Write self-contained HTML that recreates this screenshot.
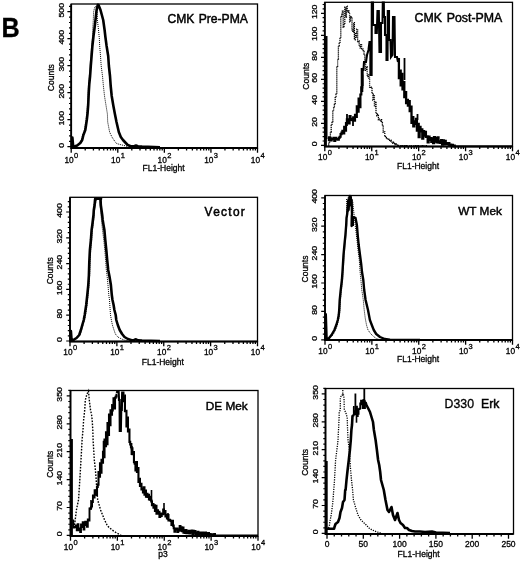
<!DOCTYPE html>
<html><head><meta charset="utf-8"><style>
html,body{margin:0;padding:0;background:#fff;}
svg{display:block;font-family:"Liberation Sans", sans-serif;filter:grayscale(100%);}
text{stroke:#000;stroke-width:0.3px;}
</style></head><body>
<svg width="520" height="562" viewBox="0 0 520 562" font-family='"Liberation Sans", sans-serif' fill="#000">
<text transform="translate(1.5,37.4) scale(0.935,1)" font-size="27" font-weight="bold" fill="#000">B</text>
<g><rect x="71.2" y="4" width="186.3" height="144" fill="none" stroke="#000" stroke-width="1.3"/><path d="M71.2 4V148H257.5" fill="none" stroke="#000" stroke-width="1.8"/><text transform="translate(64.4,145.2) rotate(-90) scale(1.08,1)" text-anchor="middle" font-size="8.1">0</text><text transform="translate(64.4,118.2) rotate(-90) scale(1.08,1)" text-anchor="middle" font-size="8.1">100</text><text transform="translate(64.4,91.2) rotate(-90) scale(1.08,1)" text-anchor="middle" font-size="8.1">200</text><text transform="translate(64.4,64.2) rotate(-90) scale(1.08,1)" text-anchor="middle" font-size="8.1">300</text><text transform="translate(64.4,37.2) rotate(-90) scale(1.08,1)" text-anchor="middle" font-size="8.1">400</text><text transform="translate(64.4,10.2) rotate(-90) scale(1.08,1)" text-anchor="middle" font-size="8.1">500</text><path d="M67.4 146.7H71.2M69 141.3H71.2M69 135.9H71.2M69 130.5H71.2M69 125.1H71.2M67.4 119.7H71.2M69 114.3H71.2M69 108.9H71.2M69 103.5H71.2M69 98.1H71.2M67.4 92.7H71.2M69 87.3H71.2M69 81.9H71.2M69 76.5H71.2M69 71.1H71.2M67.4 65.7H71.2M69 60.3H71.2M69 54.9H71.2M69 49.5H71.2M69 44.1H71.2M67.4 38.7H71.2M69 33.3H71.2M69 27.9H71.2M69 22.5H71.2M69 17.1H71.2M67.4 11.7H71.2M69 6.3H71.2" stroke="#000" stroke-width="1.2"/><text transform="translate(54.4,77.7) rotate(-90)" text-anchor="middle" font-size="8.5">Counts</text><text x="73.7" y="162.5" text-anchor="end" font-size="8.3">10</text><text x="74.1" y="157.9" font-size="7.5">0</text><text x="120.28" y="162.5" text-anchor="end" font-size="8.3">10</text><text x="120.68" y="157.9" font-size="7.5">1</text><text x="166.85" y="162.5" text-anchor="end" font-size="8.3">10</text><text x="167.25" y="157.9" font-size="7.5">2</text><text x="213.43" y="162.5" text-anchor="end" font-size="8.3">10</text><text x="213.83" y="157.9" font-size="7.5">3</text><text x="260" y="162.5" text-anchor="end" font-size="8.3">10</text><text x="260.4" y="157.9" font-size="7.5">4</text><path d="M71.2 148v4.8M85.22 148v2.6M93.42 148v2.6M99.24 148v2.6M103.75 148v2.6M107.44 148v2.6M110.56 148v2.6M113.26 148v2.6M115.64 148v2.6M117.78 148v4.8M131.8 148v2.6M140 148v2.6M145.82 148v2.6M150.33 148v2.6M154.02 148v2.6M157.14 148v2.6M159.84 148v2.6M162.22 148v2.6M164.35 148v4.8M178.37 148v2.6M186.57 148v2.6M192.39 148v2.6M196.9 148v2.6M200.59 148v2.6M203.71 148v2.6M206.41 148v2.6M208.79 148v2.6M210.93 148v4.8M224.95 148v2.6M233.15 148v2.6M238.97 148v2.6M243.48 148v2.6M247.17 148v2.6M250.29 148v2.6M252.99 148v2.6M255.37 148v2.6M257.5 148v4.8" stroke="#000" stroke-width="1.3"/><text x="142.6" y="171.4" font-size="8.5">FL1-Height</text><text x="247.9" y="22.6" text-anchor="end" font-size="12.15" font-weight="normal" word-spacing="0.8" style="stroke-width:0.45px" xml:space="preserve">CMK Pre-PMA</text><path d="M72.2,147 72.4,137.5 73.2,146.5 74.9,146.2 77.2,145.5 80.3,143 82.2,140 83.4,135 85.3,130 86.8,120 87.6,113 88.2,105 88.8,92 89.3,84 90.1,76 90.8,66 91.6,56 92.4,46 93.5,36 94.3,30 95.5,20 96.6,10 97.8,4.8 98.5,5 100.5,10 103.2,20 104.6,30 105.4,37 106.6,46 108.2,56 108.9,66 110,76 110.7,86 111.7,96 113.4,106 114.9,114 116.5,122 118.8,132 120.8,137 123,140 125.8,143 127.7,145 130.8,146.2 134,146.3 136,145.6 138,146.2 142,146.6 160,147.2" fill="none" stroke="#000" stroke-width="2.6" stroke-linejoin="round"/><path d="M73.5,146.6 76.5,145.6 79.6,143 81.5,140 82.6,135 84.5,130 86,120 86.8,113 87.4,105 88,92 88.5,84 89.3,76 90,66 90.8,56 91.6,46 92.4,38 92.8,28 93.3,20 93.6,12 94.5,8 95.5,6.2 96.6,8 97,12 97.4,20 98.5,30 99.3,38 99.7,46 100.5,56 101.2,66 102.5,76 103.4,86 104.5,96 106.1,106 107.4,114 107.7,122 109.6,132 111.9,137 114.6,141 116.5,143.5 120,144.5 124,145.5 128,146.5" fill="none" stroke="#000" stroke-width="1" stroke-dasharray="1 1"/></g>
<g><rect x="324.8" y="2.3" width="187.7" height="144.2" fill="none" stroke="#000" stroke-width="1.3"/><path d="M324.8 2.3V146.5H512.5" fill="none" stroke="#000" stroke-width="1.8"/><text transform="translate(317,143.9) rotate(-90) scale(1.08,1)" text-anchor="middle" font-size="8.1">0</text><text transform="translate(317,121.88) rotate(-90) scale(1.08,1)" text-anchor="middle" font-size="8.1">20</text><text transform="translate(317,99.87) rotate(-90) scale(1.08,1)" text-anchor="middle" font-size="8.1">40</text><text transform="translate(317,77.85) rotate(-90) scale(1.08,1)" text-anchor="middle" font-size="8.1">60</text><text transform="translate(317,55.83) rotate(-90) scale(1.08,1)" text-anchor="middle" font-size="8.1">80</text><text transform="translate(317,33.82) rotate(-90) scale(1.08,1)" text-anchor="middle" font-size="8.1">100</text><text transform="translate(317,11.8) rotate(-90) scale(1.08,1)" text-anchor="middle" font-size="8.1">120</text><path d="M321 145.4H324.8M322.6 141H324.8M322.6 136.59H324.8M322.6 132.19H324.8M322.6 127.79H324.8M321 123.38H324.8M322.6 118.98H324.8M322.6 114.58H324.8M322.6 110.17H324.8M322.6 105.77H324.8M321 101.37H324.8M322.6 96.96H324.8M322.6 92.56H324.8M322.6 88.16H324.8M322.6 83.75H324.8M321 79.35H324.8M322.6 74.95H324.8M322.6 70.54H324.8M322.6 66.14H324.8M322.6 61.74H324.8M321 57.33H324.8M322.6 52.93H324.8M322.6 48.53H324.8M322.6 44.12H324.8M322.6 39.72H324.8M321 35.32H324.8M322.6 30.91H324.8M322.6 26.51H324.8M322.6 22.11H324.8M322.6 17.7H324.8M321 13.3H324.8M322.6 8.9H324.8M322.6 4.49H324.8" stroke="#000" stroke-width="1.2"/><text transform="translate(308.6,76.2) rotate(-90)" text-anchor="middle" font-size="8.5">Counts</text><text x="327.3" y="160" text-anchor="end" font-size="8.3">10</text><text x="327.7" y="155.4" font-size="7.5">0</text><text x="374.23" y="160" text-anchor="end" font-size="8.3">10</text><text x="374.62" y="155.4" font-size="7.5">1</text><text x="421.15" y="160" text-anchor="end" font-size="8.3">10</text><text x="421.55" y="155.4" font-size="7.5">2</text><text x="468.07" y="160" text-anchor="end" font-size="8.3">10</text><text x="468.47" y="155.4" font-size="7.5">3</text><text x="515" y="160" text-anchor="end" font-size="8.3">10</text><text x="515.4" y="155.4" font-size="7.5">4</text><path d="M324.8 146.5v4.8M338.93 146.5v2.6M347.19 146.5v2.6M353.05 146.5v2.6M357.6 146.5v2.6M361.31 146.5v2.6M364.46 146.5v2.6M367.18 146.5v2.6M369.58 146.5v2.6M371.73 146.5v4.8M385.85 146.5v2.6M394.11 146.5v2.6M399.98 146.5v2.6M404.52 146.5v2.6M408.24 146.5v2.6M411.38 146.5v2.6M414.1 146.5v2.6M416.5 146.5v2.6M418.65 146.5v4.8M432.78 146.5v2.6M441.04 146.5v2.6M446.9 146.5v2.6M451.45 146.5v2.6M455.16 146.5v2.6M458.31 146.5v2.6M461.03 146.5v2.6M463.43 146.5v2.6M465.57 146.5v4.8M479.7 146.5v2.6M487.96 146.5v2.6M493.83 146.5v2.6M498.37 146.5v2.6M502.09 146.5v2.6M505.23 146.5v2.6M507.95 146.5v2.6M510.35 146.5v2.6M512.5 146.5v4.8" stroke="#000" stroke-width="1.3"/><text x="397" y="168.75" font-size="8.5">FL1-Height</text><text x="502.3" y="21.8" text-anchor="end" font-size="12.35" font-weight="normal" word-spacing="1.4" style="stroke-width:0.45px" xml:space="preserve">CMK Post-PMA</text><path d="M325.8,146.5 325.8,37 326.4,37 326.4,139" fill="none" stroke="#000" stroke-width="2.2" stroke-linejoin="miter"/><path d="M328,137.39 328.9,137.39 328.9,140.12 329.8,140.12 329.8,137.97 330.7,137.97 330.7,140.37 331.6,140.37 331.6,139.13 332.5,139.13 332.5,139.22 333.4,139.22 333.4,137.93 334.3,137.93 334.3,140.79 335.2,140.79 335.2,137.93 336.1,137.93 336.1,139.17 337,139.17 337,139.47 337.9,139.47 337.9,139.59 338.8,139.59 338.8,137.76 339.7,137.76 339.7,136.76 340.6,136.76 340.6,134.13 341.5,134.13 341.5,132.63 342.4,132.63 342.4,130.92 343.3,130.92 343.3,133.31 344.2,133.31 344.2,126.97 345.1,126.97 345.1,130.63 346,130.63 346,123.04 346.9,123.04 346.9,119.44 347.8,119.44 347.8,120.02 348.7,120.02 348.7,123.35 349.6,123.35 349.6,116.18 350.5,116.18 350.5,118.86 351.4,118.86 351.4,119.79 352.3,119.79 352.3,120.08 353.2,120.08 353.2,117.23 354.1,117.23 354.1,120.74 355,120.74 355,114.8 355.9,114.8 355.9,117.01 356.8,117.01 356.8,106.42 357.7,106.42 357.7,111.62 358.6,111.62 358.6,98.63 359.5,98.63 359.5,107.08 360.4,107.08 360.4,94.48 361.3,94.48 361.3,87.39 362.2,87.39 362.2,74.77 363.1,74.77" fill="none" stroke="#000" stroke-width="2.2" stroke-linejoin="miter"/><path d="M362.5,86 362.5,70 363.5,70 364,62 366,62 367,55 368.5,50 369.5,42 370.4,42 370.4,75 371.6,75 371.8,2.5 373,2.5 373,25 375.5,25 375.5,33 376.8,33 377.5,11 378.8,11 379.5,52 381,52 381,23 382.5,23 382.8,2.5 383.8,2.5 384,17 385,17 385,35 386.5,35 386.5,60 387.5,60 387.8,11 389,11 389,40 390.5,40 391,57 392.5,55 393,17 394.5,17 395,57 397,57 398,62" fill="none" stroke="#000" stroke-width="2.1" stroke-linejoin="miter"/><path d="M398,59.08 398.9,59.08 398.9,78.22 399.8,78.22 399.8,70.64 400.7,70.64 400.7,85.26 401.6,85.26 401.6,74.01 402.5,74.01 402.5,89.28 403.4,89.28 403.4,82.26 404.3,82.26 404.3,97.17 405.2,97.17 405.2,92.05 406.1,92.05 406.1,103.14 407,103.14 407,99.9 407.9,99.9 407.9,105.52 408.8,105.52 408.8,101.05 409.7,101.05 409.7,111.05 410.6,111.05 410.6,106.72 411.5,106.72 411.5,122.95 412.4,122.95 412.4,117.08 413.3,117.08 413.3,126.24 414.2,126.24 414.2,121.36 415.1,121.36 415.1,123.9 416,123.9 416,118.99 416.9,118.99 416.9,130.56 417.8,130.56 417.8,123.83 418.7,123.83 418.7,137.14 419.6,137.14 419.6,127.02 420.5,127.02 420.5,131.37 421.4,131.37 421.4,129.45 422.3,129.45 422.3,138.65 423.2,138.65 423.2,131.04 424.1,131.04 424.1,135.66 425,135.66 425,131.86 425.9,131.86 425.9,136.78 426.8,136.78 426.8,136.46 427.7,136.46 427.7,142.35 428.6,142.35 428.6,136.63 429.5,136.63 429.5,139.94 430.4,139.94 430.4,138.17 431.3,138.17 431.3,141.74 432.2,141.74 432.2,138.37 433.1,138.37 433.1,143.17 434,143.17 434,137.2 434.9,137.2 434.9,141.58 435.8,141.58 435.8,138.07 436.7,138.07 436.7,142.32 437.6,142.32 437.6,137.38 438.5,137.38 438.5,142.57 439.4,142.57 439.4,141.52 440.3,141.52 440.3,142.83 441.2,142.83 441.2,140.07 442.1,140.07 442.1,144.55 443,144.55 443,140.46 443.9,140.46 443.9,144.42 444.8,144.42 444.8,141.01 445.7,141.01 445.7,143.88 446.6,143.88 446.6,143.25 447.5,143.25 447.5,144.28 448.4,144.28 448.4,143.18 449.3,143.18 449.3,144.96 450.2,144.96 450.2,144.71 451.1,144.71 451.1,145.5 452,145.5 452,144.97 452.9,144.97 452.9,146.2 453.8,146.2 453.8,145.61 454.7,145.61 454.7,146.37 455.6,146.37" fill="none" stroke="#000" stroke-width="2.3" stroke-linejoin="miter"/><path d="M455,146.4 512,146.4" fill="none" stroke="#000" stroke-width="1.8" stroke-linejoin="round"/><path d="M404.5,80 404.5,58" fill="none" stroke="#000" stroke-width="1.8" stroke-linejoin="miter"/><path d="M417.5,120 417.5,114" fill="none" stroke="#000" stroke-width="1.8" stroke-linejoin="miter"/><path d="M347,126 347,114" fill="none" stroke="#000" stroke-width="1.8" stroke-linejoin="miter"/><path d="M362,92 362,68" fill="none" stroke="#000" stroke-width="2.6" stroke-linejoin="miter"/><path d="M353,118 353,126" fill="none" stroke="#000" stroke-width="1.8" stroke-linejoin="miter"/><path d="M328,144.99 328.8,144.99 328.8,142.06 329.6,142.06 329.6,136.93 330.4,136.93 330.4,132.01 331.2,132.01 331.2,125.44 332,125.44 332,121.58 332.8,121.58 332.8,111.21 333.6,111.21 333.6,107.85 334.4,107.85 334.4,104.51 335.2,104.51 335.2,96.64 336,96.64 336,94.19 336.8,94.19 336.8,66.3 337.6,66.3 337.6,59.13 338.4,59.13 338.4,45.95 339.2,45.95 339.2,43.36 340,43.36 340,37.17 340.8,37.17 340.8,16.42 341.6,16.42 341.6,14.4 342.4,14.4 342.4,11.26 343.2,11.26 343.2,27.4 344,27.4 344,23.36 344.8,23.36 344.8,7.13 345.6,7.13 345.6,17.05 346.4,17.05 346.4,6.16 347.2,6.16 347.2,11.76 348,11.76 348,10.54 348.8,10.54 348.8,12.41 349.6,12.41 349.6,21.93 350.4,21.93 350.4,16.3 351.2,16.3 351.2,17.45 352,17.45 352,29.8 352.8,29.8 352.8,32.19 353.6,32.19 353.6,22.69 354.4,22.69 354.4,39.75 355.2,39.75 355.2,32.94 356,32.94 356,37.22 356.8,37.22 356.8,29.25 357.6,29.25 357.6,41.6 358.4,41.6 358.4,41.01 359.2,41.01 359.2,46.14 360,46.14 360,47.95 360.8,47.95 360.8,44.7 361.6,44.7 361.6,48.51 362.4,48.51 362.4,49.12 363.2,49.12 363.2,51.38 364,51.38 364,54.19 364.8,54.19 364.8,62.94 365.6,62.94 365.6,70.41 366.4,70.41 366.4,66.69 367.2,66.69 367.2,76.52 368,76.52 368,74.97 368.8,74.97 368.8,78.16 369.6,78.16 369.6,87.42 370.4,87.42 370.4,87.03 371.2,87.03 371.2,88.51 372,88.51 372,93.6 372.8,93.6 372.8,100.09 373.6,100.09 373.6,94.9 374.4,94.9 374.4,106.62 375.2,106.62 375.2,101.74 376,101.74 376,112.72 376.8,112.72 376.8,115.73 377.6,115.73 377.6,114.46 378.4,114.46 378.4,119.82 379.2,119.82 379.2,118.9 380,118.9 380,121.12 380.8,121.12 380.8,119.76 381.6,119.76 381.6,122.55 382.4,122.55 382.4,126.2 383.2,126.2 383.2,132.39 384,132.39 384,131.88 384.8,131.88 384.8,135.88 385.6,135.88 385.6,137.61 386.4,137.61 386.4,138.93 387.2,138.93 387.2,138.73 388,138.73 388,139.23 388.8,139.23 388.8,140.17 389.6,140.17 389.6,141.18 390.4,141.18 390.4,140.22 391.2,140.22 391.2,142.09 392,142.09 392,142.66 392.8,142.66 392.8,143.37 393.6,143.37 393.6,142.26 394.4,142.26 394.4,144.71 395.2,144.71 395.2,143.55 396,143.55 396,144.6 396.8,144.6 396.8,145.47 397.6,145.47 397.6,146.09 398.4,146.09 398.4,145.32 399.2,145.32 399.2,146.33 400,146.33 400,146.07 400.8,146.07 400.8,145.77 401.6,145.77 401.6,145.78 402.4,145.78 402.4,145.65 403.2,145.65 403.2,145.56 404,145.56 404,145.62 404.8,145.62 404.8,146.23 405.6,146.23 405.6,146.5 406.4,146.5 406.4,145.63 407.2,145.63 407.2,145.54 408,145.54 408,146.49 408.8,146.49 408.8,146.06 409.6,146.06 409.6,145.87 410.4,145.87 410.4,145.7 411.2,145.7 411.2,146.13 412,146.13 412,146.36 412.8,146.36 412.8,145.93 413.6,145.93 413.6,145.89 414.4,145.89 414.4,145.55 415.2,145.55 415.2,146.43 416,146.43 416,145.53 416.8,145.53 416.8,145.98 417.6,145.98 417.6,146.37 418.4,146.37 418.4,145.61 419.2,145.61 419.2,146.27 420,146.27 420,146.46 420.8,146.46 420.8,146.17 421.6,146.17 421.6,146.32 422.4,146.32 422.4,145.59 423.2,145.59 423.2,145.9 424,145.9 424,145.62 424.8,145.62 424.8,146.37 425.6,146.37 425.6,145.75 426.4,145.75 426.4,145.92 427.2,145.92" fill="none" stroke="#000" stroke-width="1.3" stroke-dasharray="1.2 0.8"/></g>
<g><rect x="70" y="197.3" width="187.5" height="144.2" fill="none" stroke="#000" stroke-width="1.3"/><path d="M70 197.3V341.5H257.5" fill="none" stroke="#000" stroke-width="1.8"/><text transform="translate(61.9,339.5) rotate(-90) scale(1.08,1)" text-anchor="middle" font-size="8.1">0</text><text transform="translate(61.9,313.7) rotate(-90) scale(1.08,1)" text-anchor="middle" font-size="8.1">80</text><text transform="translate(61.9,287.9) rotate(-90) scale(1.08,1)" text-anchor="middle" font-size="8.1">160</text><text transform="translate(61.9,262.1) rotate(-90) scale(1.08,1)" text-anchor="middle" font-size="8.1">240</text><text transform="translate(61.9,236.3) rotate(-90) scale(1.08,1)" text-anchor="middle" font-size="8.1">320</text><text transform="translate(61.9,210.5) rotate(-90) scale(1.08,1)" text-anchor="middle" font-size="8.1">400</text><path d="M66.2 341H70M67.8 335.84H70M67.8 330.68H70M67.8 325.52H70M67.8 320.36H70M66.2 315.2H70M67.8 310.04H70M67.8 304.88H70M67.8 299.72H70M67.8 294.56H70M66.2 289.4H70M67.8 284.24H70M67.8 279.08H70M67.8 273.92H70M67.8 268.76H70M66.2 263.6H70M67.8 258.44H70M67.8 253.28H70M67.8 248.12H70M67.8 242.96H70M66.2 237.8H70M67.8 232.64H70M67.8 227.48H70M67.8 222.32H70M67.8 217.16H70M66.2 212H70M67.8 206.84H70M67.8 201.68H70" stroke="#000" stroke-width="1.2"/><text transform="translate(52.6,270.8) rotate(-90)" text-anchor="middle" font-size="8.5">Counts</text><text x="72.5" y="355" text-anchor="end" font-size="8.3">10</text><text x="72.9" y="350.4" font-size="7.5">0</text><text x="119.38" y="355" text-anchor="end" font-size="8.3">10</text><text x="119.78" y="350.4" font-size="7.5">1</text><text x="166.25" y="355" text-anchor="end" font-size="8.3">10</text><text x="166.65" y="350.4" font-size="7.5">2</text><text x="213.12" y="355" text-anchor="end" font-size="8.3">10</text><text x="213.53" y="350.4" font-size="7.5">3</text><text x="260" y="355" text-anchor="end" font-size="8.3">10</text><text x="260.4" y="350.4" font-size="7.5">4</text><path d="M70 341.5v4.8M84.11 341.5v2.6M92.37 341.5v2.6M98.22 341.5v2.6M102.76 341.5v2.6M106.48 341.5v2.6M109.61 341.5v2.6M112.33 341.5v2.6M114.73 341.5v2.6M116.88 341.5v4.8M130.99 341.5v2.6M139.24 341.5v2.6M145.1 341.5v2.6M149.64 341.5v2.6M153.35 341.5v2.6M156.49 341.5v2.6M159.21 341.5v2.6M161.61 341.5v2.6M163.75 341.5v4.8M177.86 341.5v2.6M186.12 341.5v2.6M191.97 341.5v2.6M196.51 341.5v2.6M200.23 341.5v2.6M203.36 341.5v2.6M206.08 341.5v2.6M208.48 341.5v2.6M210.62 341.5v4.8M224.74 341.5v2.6M232.99 341.5v2.6M238.85 341.5v2.6M243.39 341.5v2.6M247.1 341.5v2.6M250.24 341.5v2.6M252.96 341.5v2.6M255.36 341.5v2.6M257.5 341.5v4.8" stroke="#000" stroke-width="1.3"/><text x="141.75" y="364.5" font-size="8.5">FL1-Height</text><text x="246.1" y="215.9" text-anchor="end" font-size="11.9" font-weight="normal" letter-spacing="1.3" style="stroke-width:0.5px" xml:space="preserve">Vector</text><path d="M70.9,341.5 70.9,331 71.6,340.5 73.2,340 76.5,338 79.2,335 80.9,330 82.3,325 83.75,320 84.7,315 86.2,305 87.3,295 88.3,285 88.9,275 89.3,262 89.9,250 90.9,240 91.6,230 92.3,225 92.9,220 93.5,215 93.8,210 94.6,205 95,200 95.3,198.6 101,198.6 100.6,200 100.8,205 101.5,210 102.2,215 102.7,220 103.5,225 104.4,230 105.3,240 106.3,250 107.2,260 108.2,270 109.4,276 110.9,285 111.8,295 112.5,300 113.6,305 114.4,310 115.7,315 116.3,320 117.8,325 119.7,330 122.1,334 124.5,337 127.9,339 131.7,340.2 134,340 136,339.3 138,340.3 142,340.6 160,341" fill="none" stroke="#000" stroke-width="2.6" stroke-linejoin="round"/><path d="M74,340.5 77.5,338 80,335 81.7,330 83.1,325 84.5,320 85.5,315 87,305 88,295 89,285 89.7,275 90.1,262 90.7,250 91.7,240 92.4,230 93.1,225 93.7,220 94.3,215 94.6,210 95.4,205 96.5,200 98.5,199 99.5,199.5 100,205 100.5,210 101.5,220 102.5,230 103.8,240 104.8,250 105.6,260 106.3,270 107,275 108,285 108.8,295 109.5,300 109.8,305 110.5,315 111.4,320 112.4,325 114,330 115.4,334 117.8,337 120.7,338.5 124,340 128,340.8" fill="none" stroke="#000" stroke-width="1" stroke-dasharray="1 1"/></g>
<g><rect x="325" y="195.5" width="187.5" height="144.5" fill="none" stroke="#000" stroke-width="1.3"/><path d="M325 195.5V340H512.5" fill="none" stroke="#000" stroke-width="1.8"/><text transform="translate(316.9,338.3) rotate(-90) scale(1.08,1)" text-anchor="middle" font-size="8.1">0</text><text transform="translate(316.9,309.9) rotate(-90) scale(1.08,1)" text-anchor="middle" font-size="8.1">80</text><text transform="translate(316.9,281.5) rotate(-90) scale(1.08,1)" text-anchor="middle" font-size="8.1">160</text><text transform="translate(316.9,253.1) rotate(-90) scale(1.08,1)" text-anchor="middle" font-size="8.1">240</text><text transform="translate(316.9,224.7) rotate(-90) scale(1.08,1)" text-anchor="middle" font-size="8.1">320</text><text transform="translate(316.9,196.3) rotate(-90) scale(1.08,1)" text-anchor="middle" font-size="8.1">400</text><path d="M321.2 339.8H325M322.8 334.12H325M322.8 328.44H325M322.8 322.76H325M322.8 317.08H325M321.2 311.4H325M322.8 305.72H325M322.8 300.04H325M322.8 294.36H325M322.8 288.68H325M321.2 283H325M322.8 277.32H325M322.8 271.64H325M322.8 265.96H325M322.8 260.28H325M321.2 254.6H325M322.8 248.92H325M322.8 243.24H325M322.8 237.56H325M322.8 231.88H325M321.2 226.2H325M322.8 220.52H325M322.8 214.84H325M322.8 209.16H325M322.8 203.48H325M321.2 197.8H325" stroke="#000" stroke-width="1.2"/><text transform="translate(308.3,269) rotate(-90)" text-anchor="middle" font-size="8.5">Counts</text><text x="327.5" y="353.5" text-anchor="end" font-size="8.3">10</text><text x="327.9" y="348.9" font-size="7.5">0</text><text x="374.38" y="353.5" text-anchor="end" font-size="8.3">10</text><text x="374.77" y="348.9" font-size="7.5">1</text><text x="421.25" y="353.5" text-anchor="end" font-size="8.3">10</text><text x="421.65" y="348.9" font-size="7.5">2</text><text x="468.12" y="353.5" text-anchor="end" font-size="8.3">10</text><text x="468.52" y="348.9" font-size="7.5">3</text><text x="515" y="353.5" text-anchor="end" font-size="8.3">10</text><text x="515.4" y="348.9" font-size="7.5">4</text><path d="M325 340v4.8M339.11 340v2.6M347.37 340v2.6M353.22 340v2.6M357.76 340v2.6M361.48 340v2.6M364.61 340v2.6M367.33 340v2.6M369.73 340v2.6M371.88 340v4.8M385.99 340v2.6M394.24 340v2.6M400.1 340v2.6M404.64 340v2.6M408.35 340v2.6M411.49 340v2.6M414.21 340v2.6M416.61 340v2.6M418.75 340v4.8M432.86 340v2.6M441.12 340v2.6M446.97 340v2.6M451.51 340v2.6M455.23 340v2.6M458.36 340v2.6M461.08 340v2.6M463.48 340v2.6M465.62 340v4.8M479.74 340v2.6M487.99 340v2.6M493.85 340v2.6M498.39 340v2.6M502.1 340v2.6M505.24 340v2.6M507.96 340v2.6M510.36 340v2.6M512.5 340v4.8" stroke="#000" stroke-width="1.3"/><text x="397" y="361.75" font-size="8.5">FL1-Height</text><text x="501.9" y="214.7" text-anchor="end" font-size="11.8" font-weight="normal" style="stroke-width:0.45px" xml:space="preserve">WT Mek</text><path d="M325.8,340 325.8,314.2 326.6,338.5 327.2,339 329.1,338 331.5,335 334.4,330 336.3,325 337.8,320 338.75,315 339.2,310 339.7,300 340.7,290 341.9,280 342.6,270 343.5,255 344.4,245 345.4,235 346.2,225 346.5,218 347.2,214 348.2,204 348.6,210 349.3,198 349.8,196 350.3,202 350.8,197 351.3,206 351.6,200 352,214 351.8,216 351.6,226 352.6,217 354,217.5 355.5,218 356.3,222 356.9,225 357.7,235 358.7,245 360,255 361.3,265 362,272 363.3,280 364.2,290 365.6,300 368,310 369.9,320 371.8,325 373.75,330 376.2,334 380,337 384.8,339 390,339.6 420,340" fill="none" stroke="#000" stroke-width="2.4" stroke-linejoin="round"/><path d="M353,217 353,226" fill="none" stroke="#000" stroke-width="2.0" stroke-linejoin="miter"/><path d="M327.5,339.5 330,337.5 333,335 335.5,330 337.3,325 338.5,320 339.5,315 340,310 340.5,300 341.5,290 342.6,280 343.3,270 344.2,255 345.1,245 346,235 346.7,225 346.9,215 347.1,205 347.5,199 348.5,197 350,197.5 351.5,199 352.8,202 353.2,206 353.8,212 354.6,220 355.8,230 357,240 358,250 359.3,260 359.9,270 360.9,280 361.8,290 363.3,300 364.2,310 365.2,318 366.5,325 368,330 370.9,334 374.2,337 377,339 382,339.8" fill="none" stroke="#000" stroke-width="1" stroke-dasharray="1 1"/><path d="M346.7,199 347,214 347.8,200 348,213" fill="none" stroke="#000" stroke-width="1.2" stroke-dasharray="1 1"/></g>
<g><rect x="70.5" y="390.5" width="187.5" height="145.5" fill="none" stroke="#000" stroke-width="1.3"/><path d="M70.5 390.5V536H258" fill="none" stroke="#000" stroke-width="1.8"/><text transform="translate(62.3,533.9) rotate(-90) scale(1.08,1)" text-anchor="middle" font-size="8.1">0</text><text transform="translate(62.3,506) rotate(-90) scale(1.08,1)" text-anchor="middle" font-size="8.1">70</text><text transform="translate(62.3,478.1) rotate(-90) scale(1.08,1)" text-anchor="middle" font-size="8.1">140</text><text transform="translate(62.3,450.2) rotate(-90) scale(1.08,1)" text-anchor="middle" font-size="8.1">210</text><text transform="translate(62.3,422.3) rotate(-90) scale(1.08,1)" text-anchor="middle" font-size="8.1">280</text><text transform="translate(62.3,394.4) rotate(-90) scale(1.08,1)" text-anchor="middle" font-size="8.1">350</text><path d="M66.7 535.4H70.5M68.3 529.82H70.5M68.3 524.24H70.5M68.3 518.66H70.5M68.3 513.08H70.5M66.7 507.5H70.5M68.3 501.92H70.5M68.3 496.34H70.5M68.3 490.76H70.5M68.3 485.18H70.5M66.7 479.6H70.5M68.3 474.02H70.5M68.3 468.44H70.5M68.3 462.86H70.5M68.3 457.28H70.5M66.7 451.7H70.5M68.3 446.12H70.5M68.3 440.54H70.5M68.3 434.96H70.5M68.3 429.38H70.5M66.7 423.8H70.5M68.3 418.22H70.5M68.3 412.64H70.5M68.3 407.06H70.5M68.3 401.48H70.5M66.7 395.9H70.5M68.3 390.32H70.5" stroke="#000" stroke-width="1.2"/><text transform="translate(52.6,464.2) rotate(-90)" text-anchor="middle" font-size="8.5">Counts</text><text x="73" y="549.5" text-anchor="end" font-size="8.3">10</text><text x="73.4" y="544.9" font-size="7.5">0</text><text x="119.88" y="549.5" text-anchor="end" font-size="8.3">10</text><text x="120.28" y="544.9" font-size="7.5">1</text><text x="166.75" y="549.5" text-anchor="end" font-size="8.3">10</text><text x="167.15" y="544.9" font-size="7.5">2</text><text x="213.62" y="549.5" text-anchor="end" font-size="8.3">10</text><text x="214.03" y="544.9" font-size="7.5">3</text><text x="260.5" y="549.5" text-anchor="end" font-size="8.3">10</text><text x="260.9" y="544.9" font-size="7.5">4</text><path d="M70.5 536v4.8M84.61 536v2.6M92.87 536v2.6M98.72 536v2.6M103.26 536v2.6M106.98 536v2.6M110.11 536v2.6M112.83 536v2.6M115.23 536v2.6M117.38 536v4.8M131.49 536v2.6M139.74 536v2.6M145.6 536v2.6M150.14 536v2.6M153.85 536v2.6M156.99 536v2.6M159.71 536v2.6M162.11 536v2.6M164.25 536v4.8M178.36 536v2.6M186.62 536v2.6M192.47 536v2.6M197.01 536v2.6M200.73 536v2.6M203.86 536v2.6M206.58 536v2.6M208.98 536v2.6M211.12 536v4.8M225.24 536v2.6M233.49 536v2.6M239.35 536v2.6M243.89 536v2.6M247.6 536v2.6M250.74 536v2.6M253.46 536v2.6M255.86 536v2.6M258 536v4.8" stroke="#000" stroke-width="1.3"/><text x="158.25" y="557" font-size="8.5">p3</text><text x="247.7" y="410.2" text-anchor="end" font-size="11.8" font-weight="normal" style="stroke-width:0.45px" xml:space="preserve">DE Mek</text><path d="M71.6,536 71.6,439" fill="none" stroke="#000" stroke-width="2.6" stroke-linejoin="miter"/><path d="M72.5,520.44 73.35,520.44 73.35,527.49 74.2,527.49 74.2,527.26 75.05,527.26 75.05,527 75.9,527 75.9,525.41 76.75,525.41 76.75,530.26 77.6,530.26 77.6,524.26 78.45,524.26 78.45,530.18 79.3,530.18 79.3,528.55 80.15,528.55 80.15,532.14 81,532.14 81,524.37 81.85,524.37 81.85,527.05 82.7,527.05 82.7,522.11 83.55,522.11 83.55,529.59 84.4,529.59 84.4,525.02 85.25,525.02 85.25,521.64 86.1,521.64 86.1,524.61 86.95,524.61 86.95,526.89 87.8,526.89 87.8,519.56 88.65,519.56 88.65,520.45 89.5,520.45 89.5,508.46 90.35,508.46 90.35,508.17 91.2,508.17 91.2,506.66 92.05,506.66 92.05,502.03 92.9,502.03 92.9,495.54 93.75,495.54 93.75,497.51 94.6,497.51 94.6,490.31 95.45,490.31 95.45,493.94 96.3,493.94" fill="none" stroke="#000" stroke-width="1.9" stroke-linejoin="miter"/><path d="M95.5,490.15 96.25,490.15 96.25,494.83 97,494.83 97,486.89 97.75,486.89 97.75,484.58 98.5,484.58 98.5,471.99 99.25,471.99 99.25,476.61 100,476.61 100,463.3 100.75,463.3 100.75,472.78 101.5,472.78 101.5,459.77 102.25,459.77 102.25,462.66 103,462.66 103,451.76 103.75,451.76 103.75,457.09 104.5,457.09 104.5,439.65 105.25,439.65 105.25,446.13 106,446.13 106,432.3 106.75,432.3 106.75,444.1 107.5,444.1 107.5,423.12 108.25,423.12 108.25,434.89 109,434.89 109,414.52 109.75,414.52 109.75,425.24 110.5,425.24 110.5,410.21 111.25,410.21 111.25,414.76 112,414.76 112,410.48 112.75,410.48 112.75,406.12 113.5,406.12 113.5,398.36 114.25,398.36 114.25,408.52 115,408.52 115,397.82 115.75,397.82 115.75,396.51 116.5,396.51 116.5,394.83 117.25,394.83" fill="none" stroke="#000" stroke-width="2.1" stroke-linejoin="miter"/><path d="M116.8,393 117.2,391.5 118.6,391.5 119,400 119.6,400 119.8,431 120.8,431 121.2,410 121.8,410 122.2,392.7 123.4,392.7 123.6,402 124.2,400" fill="none" stroke="#000" stroke-width="2.2" stroke-linejoin="miter"/><path d="M124.2,395.44 124.95,395.44 124.95,411.18 125.7,411.18 125.7,410.9 126.45,410.9 126.45,426.44 127.2,426.44 127.2,417.5 127.95,417.5 127.95,431.35 128.7,431.35 128.7,429.67 129.45,429.67 129.45,441.85 130.2,441.85 130.2,444.4 130.95,444.4 130.95,447.09 131.7,447.09 131.7,448.39 132.45,448.39 132.45,454.09 133.2,454.09 133.2,452.15 133.95,452.15 133.95,462.31 134.7,462.31 134.7,463.72 135.45,463.72 135.45,470.35 136.2,470.35 136.2,461.97 136.95,461.97 136.95,471.85 137.7,471.85 137.7,468.11 138.45,468.11 138.45,481.94 139.2,481.94 139.2,478.89 139.95,478.89 139.95,485.88 140.7,485.88 140.7,483.9 141.45,483.9 141.45,489.57 142.2,489.57 142.2,488.89 142.95,488.89 142.95,492.52 143.7,492.52 143.7,487.22 144.45,487.22 144.45,494.74 145.2,494.74 145.2,490.54 145.95,490.54 145.95,496.68 146.7,496.68 146.7,493.8 147.45,493.8 147.45,497.07 148.2,497.07 148.2,494.74 148.95,494.74 148.95,499.42 149.7,499.42 149.7,496.75 150.45,496.75 150.45,500.06 151.2,500.06 151.2,501.35 151.95,501.35 151.95,505.22 152.7,505.22 152.7,504.15 153.45,504.15 153.45,507.72 154.2,507.72 154.2,505.31 154.95,505.31 154.95,510.97 155.7,510.97 155.7,505.87 156.45,505.87 156.45,513.66 157.2,513.66 157.2,510.28 157.95,510.28 157.95,513.73 158.7,513.73 158.7,511.72 159.45,511.72 159.45,516.99 160.2,516.99 160.2,513.5 160.95,513.5 160.95,515.94 161.7,515.94 161.7,513.71 162.45,513.71 162.45,514.19 163.2,514.19 163.2,509.61 163.95,509.61 163.95,513.5 164.7,513.5 164.7,510.96 165.45,510.96 165.45,516.41 166.2,516.41 166.2,514.78 166.95,514.78 166.95,518.57 167.7,518.57 167.7,515.05 168.45,515.05 168.45,520.43 169.2,520.43 169.2,519.68 169.95,519.68 169.95,520.53 170.7,520.53 170.7,520.86 171.45,520.86 171.45,525 172.2,525 172.2,520.71 172.95,520.71 172.95,525.62 173.7,525.62 173.7,528.18 174.45,528.18 174.45,531.65 175.2,531.65 175.2,528.97 175.95,528.97 175.95,529.49 176.7,529.49 176.7,528.43 177.45,528.43 177.45,531.91 178.2,531.91 178.2,529.45 178.95,529.45 178.95,530.76 179.7,530.76 179.7,526.16 180.45,526.16 180.45,530.48 181.2,530.48 181.2,527.23 181.95,527.23 181.95,531.13 182.7,531.13 182.7,527.6 183.45,527.6 183.45,532.67 184.2,532.67 184.2,530.34 184.95,530.34 184.95,532.91 185.7,532.91 185.7,530.14 186.45,530.14 186.45,533.23 187.2,533.23 187.2,531.54 187.95,531.54 187.95,533.16 188.7,533.16 188.7,530.71 189.45,530.71 189.45,533.49 190.2,533.49 190.2,530.7 190.95,530.7 190.95,532.35 191.7,532.35 191.7,530.63 192.45,530.63 192.45,533.89 193.2,533.89 193.2,530.84 193.95,530.84 193.95,532.8 194.7,532.8 194.7,531.06 195.45,531.06 195.45,534.36 196.2,534.36 196.2,532.73 196.95,532.73 196.95,534.31 197.7,534.31 197.7,531.87 198.45,531.87 198.45,534.13 199.2,534.13 199.2,532.79 199.95,532.79 199.95,533.81 200.7,533.81 200.7,532.5 201.45,532.5 201.45,535.5 202.2,535.5 202.2,532.66 202.95,532.66 202.95,534.13 203.7,534.13 203.7,532.88 204.45,532.88 204.45,534.89 205.2,534.89 205.2,532.63 205.95,532.63 205.95,534.55 206.7,534.55 206.7,533.29 207.45,533.29 207.45,535.38 208.2,535.38 208.2,533.05 208.95,533.05 208.95,534.55 209.7,534.55 209.7,533.98 210.45,533.98 210.45,535.63 211.2,535.63 211.2,534.25 211.95,534.25 211.95,535.02 212.7,535.02 212.7,534.66 213.45,534.66 213.45,534.92 214.2,534.92 214.2,534.09 214.95,534.09 214.95,535.32 215.7,535.32" fill="none" stroke="#000" stroke-width="2.1" stroke-linejoin="miter"/><path d="M215,535.4 258,535.4" fill="none" stroke="#000" stroke-width="1.8" stroke-linejoin="round"/><path d="M103.6,455 103.6,440.8" fill="none" stroke="#000" stroke-width="1.8" stroke-linejoin="miter"/><path d="M112,415 112,404" fill="none" stroke="#000" stroke-width="1.8" stroke-linejoin="miter"/><path d="M131.5,455 131.5,443" fill="none" stroke="#000" stroke-width="1.8" stroke-linejoin="miter"/><path d="M151.5,500 151.5,490" fill="none" stroke="#000" stroke-width="1.6" stroke-linejoin="miter"/><path d="M164,512 164,503" fill="none" stroke="#000" stroke-width="1.6" stroke-linejoin="miter"/><path d="M168,520 168,513" fill="none" stroke="#000" stroke-width="1.6" stroke-linejoin="miter"/><path d="M91,510 91,500" fill="none" stroke="#000" stroke-width="1.6" stroke-linejoin="miter"/><path d="M74,528 74.5,525 75.2,520 76.4,510 78.5,500 79.8,480 81,460 82.1,440 83,430 83.6,420 84.7,410 85.3,400 87,394 88.5,391 89.3,400 89.9,405 90.5,410 91.6,415 92.2,420 92.8,430 93.1,440 93.7,450 94.3,460 95.4,470 96.2,480 96.8,490 97.7,500 100.6,510 104.6,520 107.5,526 112.1,530 116.7,533 121.4,535.5" fill="none" stroke="#000" stroke-width="1.4" stroke-dasharray="1.6 1.4"/></g>
<g><rect x="325.5" y="388.5" width="188" height="145.5" fill="none" stroke="#000" stroke-width="1.3"/><path d="M325.5 388.5V534H513.5" fill="none" stroke="#000" stroke-width="1.8"/><text transform="translate(317.5,531.9) rotate(-90) scale(1.08,1)" text-anchor="middle" font-size="8.1">0</text><text transform="translate(317.5,504) rotate(-90) scale(1.08,1)" text-anchor="middle" font-size="8.1">70</text><text transform="translate(317.5,476.1) rotate(-90) scale(1.08,1)" text-anchor="middle" font-size="8.1">140</text><text transform="translate(317.5,448.2) rotate(-90) scale(1.08,1)" text-anchor="middle" font-size="8.1">210</text><text transform="translate(317.5,420.3) rotate(-90) scale(1.08,1)" text-anchor="middle" font-size="8.1">280</text><text transform="translate(317.5,392.4) rotate(-90) scale(1.08,1)" text-anchor="middle" font-size="8.1">350</text><path d="M321.7 533.4H325.5M323.3 527.82H325.5M323.3 522.24H325.5M323.3 516.66H325.5M323.3 511.08H325.5M321.7 505.5H325.5M323.3 499.92H325.5M323.3 494.34H325.5M323.3 488.76H325.5M323.3 483.18H325.5M321.7 477.6H325.5M323.3 472.02H325.5M323.3 466.44H325.5M323.3 460.86H325.5M323.3 455.28H325.5M321.7 449.7H325.5M323.3 444.12H325.5M323.3 438.54H325.5M323.3 432.96H325.5M323.3 427.38H325.5M321.7 421.8H325.5M323.3 416.22H325.5M323.3 410.64H325.5M323.3 405.06H325.5M323.3 399.48H325.5M321.7 393.9H325.5M323.3 388.32H325.5" stroke="#000" stroke-width="1.2"/><text transform="translate(308.3,462.4) rotate(-90)" text-anchor="middle" font-size="8.5">Counts</text><text x="327" y="546.5" text-anchor="middle" font-size="8.5">0</text><text x="363.3" y="546.5" text-anchor="middle" font-size="8.5">50</text><text x="399.6" y="546.5" text-anchor="middle" font-size="8.5">100</text><text x="435.9" y="546.5" text-anchor="middle" font-size="8.5">150</text><text x="472.2" y="546.5" text-anchor="middle" font-size="8.5">200</text><text x="508.5" y="546.5" text-anchor="middle" font-size="8.5">250</text><path d="M327 534v4.8M334.26 534v2.6M341.52 534v2.6M348.78 534v2.6M356.04 534v2.6M363.3 534v4.8M370.56 534v2.6M377.82 534v2.6M385.08 534v2.6M392.34 534v2.6M399.6 534v4.8M406.86 534v2.6M414.12 534v2.6M421.38 534v2.6M428.64 534v2.6M435.9 534v4.8M443.16 534v2.6M450.42 534v2.6M457.68 534v2.6M464.94 534v2.6M472.2 534v4.8M479.46 534v2.6M486.72 534v2.6M493.98 534v2.6M501.24 534v2.6M508.5 534v4.8" stroke="#000" stroke-width="1.3"/><text x="397.6" y="557" font-size="8.5">FL1-Height</text><text x="499.4" y="408.4" text-anchor="end" font-size="12.3" font-weight="normal" style="stroke-width:0.45px" xml:space="preserve">Erk</text><path d="M326.4,534 326.4,461" fill="none" stroke="#000" stroke-width="2.6" stroke-linejoin="miter"/><path d="M326.5,528.8 334.1,528.8 334.5,527 335.5,524 338,522 339.5,518 340.5,512 342,508 343,502 344.5,500 345.2,490 345.6,490 346.5,480 347.6,470 348.8,460 349.9,450 350.8,440 351.4,430 352,425 352.5,416 354,415" fill="none" stroke="#000" stroke-width="2.6" stroke-linejoin="round"/><path d="M353,406.83 353.8,406.83 353.8,414.51 354.6,414.51 354.6,414.22 355.4,414.22 355.4,411.16 356.2,411.16 356.2,406.74 357,406.74 357,416.15 357.8,416.15 357.8,413.89 358.6,413.89 358.6,409.18 359.4,409.18 359.4,408.57 360.2,408.57 360.2,403.42 361,403.42 361,400.53 361.8,400.53 361.8,404.39 362.6,404.39 362.6,408.15 363.4,408.15 363.4,399.89 364.2,399.89 364.2,408.09 365,408.09 365,401.26 365.8,401.26" fill="none" stroke="#000" stroke-width="1.8" stroke-linejoin="miter"/><path d="M355.4,412 355.4,393.5" fill="none" stroke="#000" stroke-width="1.8" stroke-linejoin="miter"/><path d="M364.3,405 364.3,389" fill="none" stroke="#000" stroke-width="1.8" stroke-linejoin="miter"/><path d="M356.5,412 356.5,422.7" fill="none" stroke="#000" stroke-width="1.6" stroke-linejoin="miter"/><path d="M365.5,402 366.4,405 368,408 370,412 371.5,417 373,422 373.9,430 375.6,440 376.9,450 378.1,460 379.2,465 380.2,472 381,480 383.8,490 385.5,500 386.5,505 387.5,510 389,512 391.5,507 393,515 395,520 397.5,513 399,520 400.5,523 403,525 405,528 407,528 409,530 412,531 415,531.5 420,531.5 425,532 432,531.5 436,532.5 450,533" fill="none" stroke="#000" stroke-width="2.6" stroke-linejoin="round"/><path d="M328.5,528 329.5,525 329.8,522 331.2,515 332.5,505 333,500 334.5,480 335.6,460 337.5,445 338,440 338.5,430 339,420 339.2,412 340.3,410 340.3,398 341.5,395 342.8,395 342.8,389.5 342.8,395 343.5,395 344,398 344.3,410 345.6,412 346.5,415 347.2,418 347.6,430 348,440 348.7,445 349.4,450 350,460 350.6,470 351.5,480 352.6,490 353.4,500 356.4,510 358,515 361,520 366.2,525 369,528 372.2,530 377.3,532 381,533.2" fill="none" stroke="#000" stroke-width="1.3" stroke-dasharray="1.2 1.2"/><text x="444.6" y="408.4" font-size="12.3">D330</text></g>
</svg>
</body></html>
